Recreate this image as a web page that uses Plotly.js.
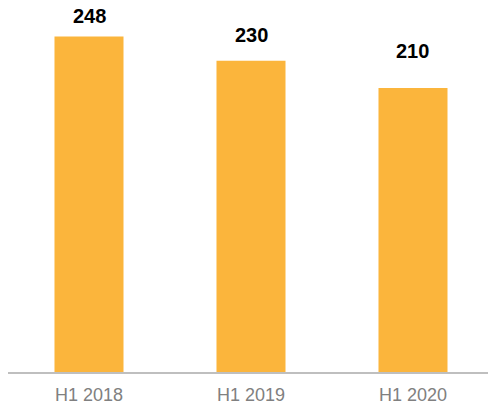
<!DOCTYPE html>
<html><head><meta charset="utf-8">
<script src="https://cdn.plot.ly/plotly-3.0.1.min.js"></script>
<style>html,body{margin:0;padding:0;background:#fff}#c{width:488px;height:404px}</style>
</head><body><div id="c"></div>
<script>
var categories = ["H1 2018", "H1 2019", "H1 2020"];
var values = [248, 230, 210];
var labels = ["248", "230", "210"];

// label offsets in pixels (style only)
var labelShift = [7.5, 12.5, 23.5];

var trace = {
  type: "bar",
  x: categories,
  y: values,
  width: 0.426,
  marker: {color: "#FBB53C"},
  hoverinfo: "none"
};
var annotations = categories.map(function(c, i){
  return {x: c, y: values[i], xref: "x", yref: "y", text: "<b>" + labels[i] + "</b>",
    showarrow: false, yanchor: "bottom", yshift: labelShift[i],
    font: {family: "Liberation Sans, Arial, sans-serif", size: 20, color: "#000"}};
});
var layout = {
  width: 488, height: 404,
  margin: {l: 8, r: 0, t: 0, b: 32},
  paper_bgcolor: "#fff", plot_bgcolor: "#fff",
  showlegend: false,
  xaxis: {type: "category", range: [-0.5, 2.463], showline: true, linecolor: "#BFBFBF", linewidth: 1.5,
    ticks: "", showgrid: false, zeroline: false, ticklabelstandoff: 6,
    tickfont: {family: "Liberation Sans, Arial, sans-serif", size: 18, color: "#808080"}},
  yaxis: {range: [0, 275], visible: false, showgrid: false, zeroline: false},
  annotations: annotations
};
Plotly.newPlot("c", [trace], layout, {staticPlot: true, displayModeBar: false});
</script></body></html>
